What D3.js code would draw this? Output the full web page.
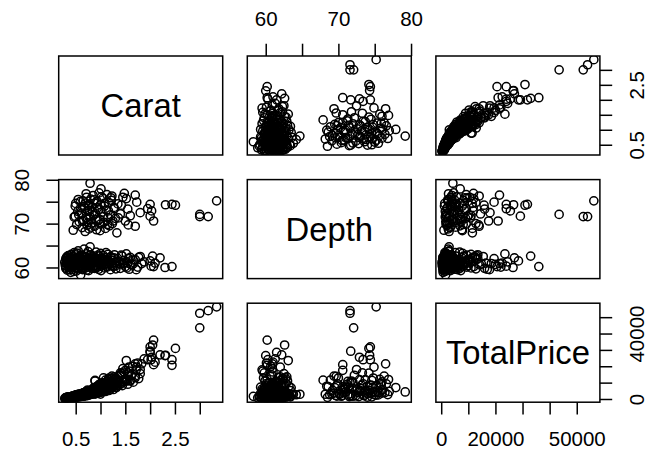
<!DOCTYPE html>
<html>
<head>
<meta charset="utf-8">
<script src="https://cdn.jsdelivr.net/npm/d3@7"></script>
<style>
  body { margin: 0; background: #fff; }
  svg { display: block; }
  text { font-family: "Liberation Sans", Arial, Helvetica, sans-serif; fill: #000; }
</style>
</head>
<body>
<svg id="chart" width="648" height="456"></svg>
<script>
// ---- data: one entry per stone (same order in all three arrays) ----
const carat = [
  // shallow stones (depth ~58-65)
  0.28,0.29,0.30,0.30,0.31,0.31,0.32,0.33,0.33,0.34,0.35,0.35,0.36,0.37,0.38,0.38,0.39,0.40,0.40,0.41,
  0.42,0.43,0.44,0.45,0.45,0.46,0.47,0.48,0.49,0.50,0.50,0.50,0.51,0.52,0.53,0.54,0.55,0.55,0.56,0.57,0.58,0.58,0.59,0.60,0.60,
  0.61,0.62,0.63,0.64,0.65,0.66,0.67,0.68,0.69,0.70,0.70,0.71,0.72,0.73,0.74,0.75,0.76,0.77,0.78,0.79,0.80,0.80,
  0.82,0.83,0.85,0.86,0.88,0.89,0.89,0.90,0.90,0.91,0.92,0.94,0.95,0.96,0.98,0.99,1.00,1.00,1.00,1.01,1.02,
  1.03,1.05,1.06,1.08,1.10,1.10,1.12,1.14,1.15,1.17,1.19,1.20,1.21,1.23,1.25,1.26,1.28,1.30,
  1.32,1.35,1.38,1.40,1.42,1.45,1.48,1.50,1.52,1.55,1.58,1.60,1.65,1.70,1.75,1.80,
  2.00,2.02,2.05,2.07,2.10,2.20,2.30,2.44,
  0.30,0.32,0.34,0.36,0.38,0.40,0.41,0.43,0.45,0.46,0.48,0.50,0.51,0.52,0.54,0.55,0.57,0.58,0.60,0.62,
  0.63,0.65,0.66,0.68,0.70,0.71,0.72,0.74,0.75,0.76,0.78,0.80,0.81,0.83,0.85,0.87,0.90,0.91,0.93,0.95,
  0.97,1.00,1.01,1.04,1.07,1.09,1.11,1.13,1.16,1.20,
  1.22,1.27,1.31,1.36,1.41,1.44,1.47,1.53,1.57,1.62,1.66,1.72,1.77,1.83,1.88,
  // deep stones (depth ~68-79)
  0.45,0.47,0.49,0.49,0.50,0.52,0.54,0.55,0.57,0.60,
  0.62,0.63,0.65,0.66,0.68,0.69,0.70,0.71,0.72,0.73,0.74,0.75,0.76,0.77,0.78,0.79,0.79,0.80,
  0.82,0.83,0.85,0.86,0.88,0.89,0.90,0.92,0.93,0.95,0.96,0.97,0.98,1.00,1.00,1.01,
  1.03,1.05,1.07,1.08,1.10,1.12,1.13,1.15,1.17,1.18,1.20,1.22,1.23,1.25,1.27,1.30,
  1.33,1.35,1.40,1.45,1.50,1.52,1.55,1.60,1.70,1.70,1.73,1.80,
  1.95,2.00,2.00,2.03,2.07,2.31,2.44,2.51,
  3.00,3.00,3.17,3.34,
  0.56,0.59,0.64,0.67,0.71,0.74,0.77,0.81,0.84,0.87,0.91,0.94,0.99,1.02,1.06,1.09,1.14,1.16,1.21,1.24,
  1.28,1.36,1.42,1.48,1.56
];
const depth = [
  61.2,60.5,62.0,59.8,61.5,60.9,62.4,61.0,59.4,61.8,60.3,62.7,61.4,59.9,60.8,62.1,61.6,58.9,60.6,63.0,
  61.9,60.2,62.5,61.1,59.6,60.7,63.4,61.3,62.2,60.0,61.7,62.9,59.2,60.9,61.5,62.3,60.4,63.8,61.0,59.7,62.6,60.8,61.4,62.0,58.3,
  61.6,60.3,62.8,59.5,61.2,60.6,64.2,62.4,61.0,59.9,61.8,60.4,63.1,61.5,60.1,62.2,59.3,61.4,60.7,64.7,62.0,60.9,
  61.1,62.6,60.2,61.7,59.8,62.3,61.4,60.5,61.9,63.5,60.0,61.3,62.8,59.6,61.0,62.1,60.7,61.5,63.2,60.3,61.8,
  60.6,61.4,62.7,59.9,61.0,62.2,60.3,61.7,63.0,60.8,61.2,59.5,62.4,60.9,61.6,60.2,62.9,61.1,
  60.5,62.0,61.3,59.8,62.8,60.9,61.6,60.2,63.1,61.0,59.6,62.3,60.7,61.8,60.1,62.5,
  61.5,60.3,62.6,60.2,61.0,62.2,60.0,60.2,
  60.1,61.7,62.3,60.6,59.5,61.3,62.8,60.4,61.9,59.1,62.1,60.8,61.2,63.3,59.9,61.6,60.5,62.4,61.1,60.0,
  62.7,59.7,61.8,60.9,62.5,61.2,59.4,60.6,63.6,61.9,60.3,61.4,62.9,59.8,61.1,60.4,62.2,59.9,61.5,60.2,
  62.6,61.0,59.3,62.0,60.6,61.7,63.4,60.1,61.3,62.4,
  60.4,62.2,59.7,61.5,60.8,62.6,61.0,59.9,62.0,60.6,61.7,59.5,62.3,60.9,61.3,
  68.5,71.5,74.0,71.7,74.6,69.8,72.8,75.5,70.4,73.6,
  72.4,69.1,75.2,70.8,73.5,68.2,74.7,71.3,76.0,69.6,72.9,70.2,74.1,68.8,73.0,79.2,71.6,75.6,
  70.1,73.8,76.4,71.9,69.4,74.6,72.3,68.6,75.1,70.7,73.2,77.0,71.0,74.3,69.9,77.9,
  72.6,75.8,70.3,74.0,68.9,73.1,76.6,71.4,74.8,69.5,72.0,75.3,76.3,70.6,73.7,71.2,
  67.9,74.5,72.2,76.0,70.6,75.7,73.3,71.8,76.5,69.4,74.9,72.5,
  73.4,74.4,71.7,72.9,70.6,74.3,74.4,74.2,
  72.1,71.6,71.6,75.2,
  72.0,75.0,70.5,73.9,76.8,71.0,74.4,69.2,72.7,75.4,70.9,73.6,68.4,76.1,71.6,74.7,69.8,72.9,75.9,70.0,
  73.4,71.3,74.2,76.9,69.7
];
const totalPrice = [
  280,350,560,900,640,480,690,1100,650,760,800,1250,830,600,900,1350,950,700,1050,1500,
  1150,800,1600,1000,1900,850,1350,1050,2100,1200,1800,2500,1100,1700,2300,1300,2000,2900,1400,2200,1500,3100,1700,2600,1600,
  2300,1600,3000,1900,3700,1700,2600,3100,2100,4300,2400,3600,2000,3200,5500,2700,3400,2500,4800,2900,4100,3000,
  3900,2900,5600,3400,6900,3000,11000,4700,3500,6800,4300,7500,3800,5100,9000,4200,6400,3000,7900,5000,9800,
  4200,7700,12900,5300,9700,4600,8000,6100,11000,5200,8700,6000,12500,6800,10300,5800,13500,7200,
  7000,13500,8600,16000,9400,18500,10500,12000,23500,9000,17000,11500,20000,13000,22000,15500,
  28500,24000,33000,36000,22500,27000,26500,20600,
  500,800,650,1000,1200,900,1400,1600,1100,1500,1900,1350,2400,1700,1900,1450,2600,1800,2000,2700,
  1900,3300,2400,2900,3600,2300,3100,4000,2800,3500,2600,4700,3800,3200,4400,5300,4000,6000,4900,3600,
  5500,4500,7200,5000,8000,6300,5200,9400,7000,8300,
  9800,7600,12800,10200,14800,8200,16500,11000,19500,14200,10300,17800,12500,21500,24500,
  1000,1500,1200,2000,1300,1800,1500,2500,1700,2300,
  2000,3200,2400,3800,2100,2900,4200,2500,3600,2200,4700,2900,3500,2600,5200,4300,3100,3900,
  3300,5200,4000,6700,3600,11400,4800,7600,4100,5900,8500,4600,7200,5200,9200,7000,
  6000,9500,5400,7800,11500,6400,9200,7300,12800,6900,10200,8200,14000,7500,11800,9000,
  11500,8500,14500,10500,17500,12000,16000,11000,21500,14000,19500,18000,
  24000,31800,29200,25500,21000,26700,24000,30900,
  43500,52400,54000,56300,
  1700,2600,2100,3400,2700,4300,3300,5300,3900,4900,6600,4300,7800,5700,9800,6900,8100,11800,8700,12800,
  9300,10800,15800,11900,13800
];

const varNames = ["Carat", "Depth", "TotalPrice"];

// axis ticks, and the subset of ticks that carry a printed label
const caratTicks = [0.5, 1.0, 1.5, 2.0, 2.5, 3.0];
const caratBottomLabels = [0.5, 1.5, 2.5];
const caratRightLabels = [0.5, 2.5];
const depthTicks = [60, 65, 70, 75, 80];
const depthLabels = [60, 70, 80];
const priceTicks = [0, 10000, 20000, 30000, 40000, 50000];
const priceBottomLabels = [0, 20000, 50000];
const priceRightLabels = [0, 40000];

// ---- layout ----
const panelW = 164, panelH = 99, gap = 24.6;
const originX = 58.7, originY = 56;
const colX = [0, 1, 2].map(i => originX + i * (panelW + gap));
const rowY = [0, 1, 2].map(i => originY + i * (panelH + gap));
const axisFont = 20.5, diagFont = 32.8;
const lineH = 24.6, tickLen = 12.3;
const strokeW = 1.5;

const stones = carat.map((c, k) => ({ Carat: c, Depth: depth[k], TotalPrice: totalPrice[k] }));

// each variable's range is padded by 4% on both sides
function paddedDomain(key) {
  const [lo, hi] = d3.extent(stones, d => d[key]);
  const pad = 0.04 * (hi - lo);
  return [lo - pad, hi + pad];
}
const domains = {};
varNames.forEach(v => domains[v] = paddedDomain(v));
const xScale = v => d3.scaleLinear().domain(domains[v]).range([0, panelW]);
const yScale = v => d3.scaleLinear().domain(domains[v]).range([panelH, 0]);

const svg = d3.select("#chart");
svg.append("rect").attr("width", 648).attr("height", 456).attr("fill", "#fff");
svg.append("defs").append("clipPath").attr("id", "panelClip")
  .append("rect").attr("width", panelW).attr("height", panelH);

for (let i = 0; i < 3; i++) {
  for (let j = 0; j < 3; j++) {
    const g = svg.append("g").attr("transform", `translate(${colX[j]},${rowY[i]})`);
    if (i === j) {
      g.append("text")
        .attr("x", panelW / 2)
        .attr("y", panelH / 2 + 0.36 * diagFont)
        .attr("text-anchor", "middle")
        .style("font-size", diagFont + "px")
        .text(varNames[i]);
    } else {
      const xs = xScale(varNames[j]);
      const ys = yScale(varNames[i]);
      g.append("g").attr("clip-path", "url(#panelClip)")
        .selectAll("circle").data(stones).join("circle")
        .attr("cx", d => xs(d[varNames[j]]))
        .attr("cy", d => ys(d[varNames[i]]))
        .attr("r", 4.1)
        .attr("fill", "none")
        .attr("stroke", "#000")
        .attr("stroke-width", strokeW);
    }
    g.append("rect")
      .attr("width", panelW).attr("height", panelH)
      .attr("fill", "none").attr("stroke", "#000").attr("stroke-width", strokeW);
  }
}

function styleAxis(sel) {
  sel.select(".domain").remove();
  sel.selectAll(".tick line").attr("stroke", "#000").attr("stroke-width", strokeW);
  sel.selectAll("text").style("font-size", axisFont + "px").attr("fill", "#000");
}
const fmt = labels => d => labels.includes(d) ? String(d) : "";

// bottom axes (columns 1 and 3 of the last row)
[[0, caratTicks, caratBottomLabels], [2, priceTicks, priceBottomLabels]].forEach(([j, ticks, labels]) => {
  const ax = svg.append("g").attr("transform", `translate(${colX[j]},${rowY[2] + panelH})`)
    .call(d3.axisBottom(xScale(varNames[j])).tickValues(ticks).tickSize(tickLen).tickFormat(fmt(labels)));
  styleAxis(ax);
  ax.selectAll("text").attr("y", lineH * 1.8).attr("dy", null);
});

// top axis (column 2 of the first row)
{
  const ax = svg.append("g").attr("transform", `translate(${colX[1]},${rowY[0]})`)
    .call(d3.axisTop(xScale("Depth")).tickValues(depthTicks).tickSize(tickLen).tickFormat(fmt(depthLabels)));
  styleAxis(ax);
  ax.selectAll("text").attr("y", -lineH * 1.2).attr("dy", null);
}

// left axis (row 2 of the first column), labels parallel to the axis
{
  const ax = svg.append("g").attr("transform", `translate(${colX[0]},${rowY[1]})`)
    .call(d3.axisLeft(yScale("Depth")).tickValues(depthTicks).tickSize(tickLen).tickFormat(fmt(depthLabels)));
  styleAxis(ax);
  ax.selectAll("text")
    .attr("transform", "rotate(-90)")
    .attr("x", 0).attr("y", -lineH * 1.2).attr("dy", null)
    .attr("text-anchor", "middle");
}

// right axes (rows 1 and 3 of the last column)
[[0, caratTicks, caratRightLabels], [2, priceTicks, priceRightLabels]].forEach(([i, ticks, labels]) => {
  const ax = svg.append("g").attr("transform", `translate(${colX[2] + panelW},${rowY[i]})`)
    .call(d3.axisRight(yScale(varNames[i])).tickValues(ticks).tickSize(tickLen).tickFormat(fmt(labels)));
  styleAxis(ax);
  ax.selectAll("text")
    .attr("transform", "rotate(-90)")
    .attr("x", 0).attr("y", lineH * 1.8).attr("dy", null)
    .attr("text-anchor", "middle");
});
</script>
</body>
</html>
